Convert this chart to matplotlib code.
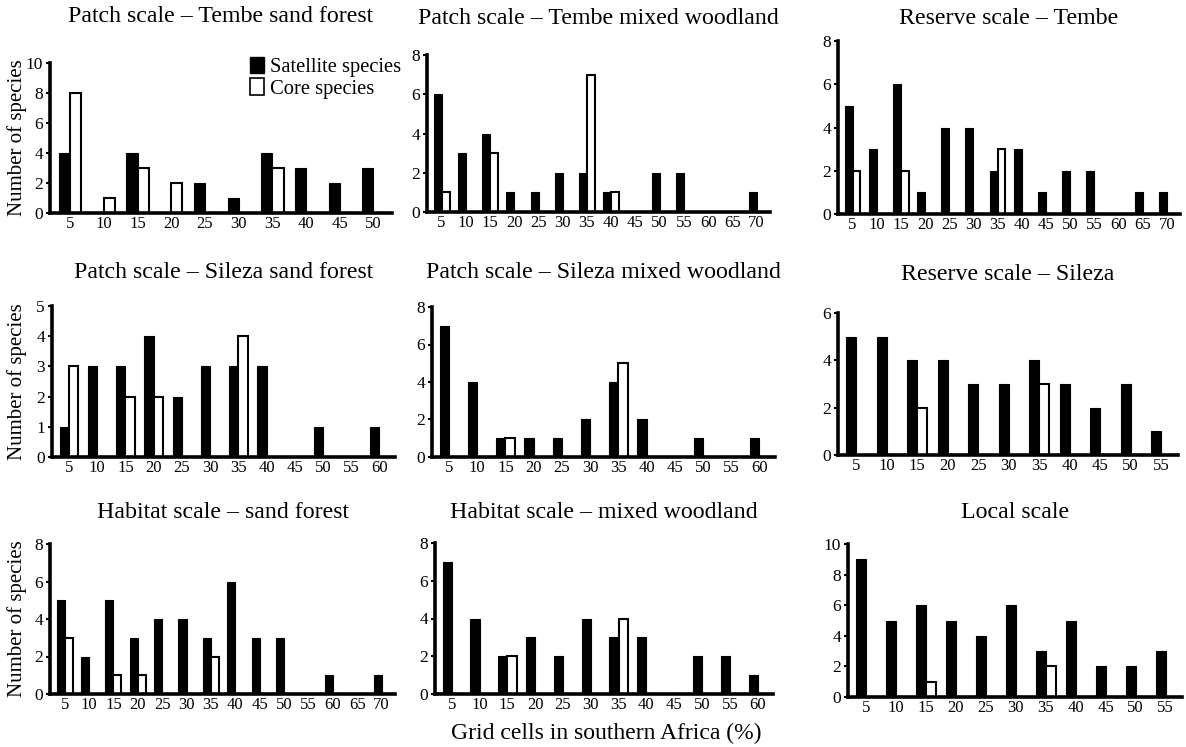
import matplotlib.pyplot as plt
import matplotlib.patches as mpatches
import numpy as np

plt.rcParams['font.family'] = ['Liberation Serif', 'DejaVu Serif']

# category labels (% of grid cells in southern Africa)
cats_50 = [5, 10, 15, 20, 25, 30, 35, 40, 45, 50]
cats_55 = [5, 10, 15, 20, 25, 30, 35, 40, 45, 50, 55]
cats_60 = [5, 10, 15, 20, 25, 30, 35, 40, 45, 50, 55, 60]
cats_70 = [5, 10, 15, 20, 25, 30, 35, 40, 45, 50, 55, 60, 65, 70]

# satellite / core species counts per panel
tembe_sand_sat = [4, 0, 4, 0, 2, 1, 4, 3, 2, 3]
tembe_sand_core = [8, 1, 3, 2, 0, 0, 3, 0, 0, 0]
tembe_mixed_sat = [6, 3, 4, 1, 1, 2, 2, 1, 0, 2, 2, 0, 0, 1]
tembe_mixed_core = [1, 0, 3, 0, 0, 0, 7, 1, 0, 0, 0, 0, 0, 0]
tembe_res_sat = [5, 3, 6, 1, 4, 4, 2, 3, 1, 2, 2, 0, 1, 1]
tembe_res_core = [2, 0, 2, 0, 0, 0, 3, 0, 0, 0, 0, 0, 0, 0]
sileza_sand_sat = [1, 3, 3, 4, 2, 3, 3, 3, 0, 1, 0, 1]
sileza_sand_core = [3, 0, 2, 2, 0, 0, 4, 0, 0, 0, 0, 0]
sileza_mixed_sat = [7, 4, 1, 1, 1, 2, 4, 2, 0, 1, 0, 1]
sileza_mixed_core = [0, 0, 1, 0, 0, 0, 5, 0, 0, 0, 0, 0]
sileza_res_sat = [5, 5, 4, 4, 3, 3, 4, 3, 2, 3, 1]
sileza_res_core = [0, 0, 2, 0, 0, 0, 3, 0, 0, 0, 0]
hab_sand_sat = [5, 2, 5, 3, 4, 4, 3, 6, 3, 3, 0, 1, 0, 1]
hab_sand_core = [3, 0, 1, 1, 0, 0, 2, 0, 0, 0, 0, 0, 0, 0]
hab_mixed_sat = [7, 4, 2, 3, 2, 4, 3, 3, 0, 2, 2, 1]
hab_mixed_core = [0, 0, 2, 0, 0, 0, 4, 0, 0, 0, 0, 0]
local_sat = [9, 5, 6, 5, 4, 6, 3, 5, 2, 2, 3]
local_core = [0, 0, 1, 0, 0, 0, 2, 0, 0, 0, 0]

W, H = 1186, 747
fig = plt.figure(figsize=(W / 100, H / 100), dpi=100)

# (title, cats, sat, core, ymax, ystep, box px: left, top, right, bottom, title y px)
panels = [
    ('Patch scale \u2013 Tembe sand forest', cats_50, tembe_sand_sat, tembe_sand_core, 10, 2, (50, 63, 392, 213), 17),
    ('Patch scale \u2013 Tembe mixed woodland', cats_70, tembe_mixed_sat, tembe_mixed_core, 8, 2, (427, 55, 770, 212), 19),
    ('Reserve scale \u2013 Tembe', cats_70, tembe_res_sat, tembe_res_core, 8, 2, (838, 41, 1180, 214), 18),
    ('Patch scale \u2013 Sileza sand forest', cats_60, sileza_sand_sat, sileza_sand_core, 5, 1, (52, 306, 395, 457), 273),
    ('Patch scale \u2013 Sileza mixed woodland', cats_60, sileza_mixed_sat, sileza_mixed_core, 8, 2, (432, 307, 775, 457), 273),
    ('Reserve scale \u2013 Sileza', cats_55, sileza_res_sat, sileza_res_core, 6, 2, (838, 313, 1178, 455), 274),
    ('Habitat scale \u2013 sand forest', cats_70, hab_sand_sat, hab_sand_core, 8, 2, (50, 544, 395, 694), 513),
    ('Habitat scale \u2013 mixed woodland', cats_60, hab_mixed_sat, hab_mixed_core, 8, 2, (435, 543, 773, 694), 513),
    ('Local scale', cats_55, local_sat, local_core, 10, 2, (848, 544, 1182, 697), 513),
]

bw = 0.33
for i, (title, cats, sat, core, ymax, ystep, box, ty) in enumerate(panels):
    l, t, r, b = box
    ax = fig.add_axes([l / W, 1 - b / H, (r - l) / W, (b - t) / H])
    x = np.arange(len(cats))
    ax.bar(x - bw, sat, width=bw, align='edge', color='black', edgecolor='black', linewidth=0.8)
    ax.bar(x, core, width=bw, align='edge', color='white', edgecolor='black', linewidth=1.5)
    ax.set_xlim(-0.6, len(cats) - 0.45)
    ax.set_ylim(0, ymax)
    ax.set_yticks(np.arange(0, ymax + 0.1, ystep))
    ax.set_xticks(x)
    ax.set_xticklabels([str(c) for c in cats], fontsize=12)
    ax.tick_params(axis='x', length=0, pad=2)
    ax.tick_params(axis='y', length=3, width=1.5, labelsize=12.5, pad=2)
    for s in ['top', 'right']:
        ax.spines[s].set_visible(False)
    for s in ['left', 'bottom']:
        ax.spines[s].set_linewidth(2.6)
    fig.text((l + r) / 2 / W, 1 - ty / H, title, ha='center', va='center', fontsize=17.2)
    if i % 3 == 0:
        ax.set_ylabel('Number of species', fontsize=15, va='center')
        ax.yaxis.set_label_coords((17 - l) / (r - l), 0.5)

fig.text(606 / W, 1 - 733 / H, 'Grid cells in southern Africa (%)', ha='center', va='center', fontsize=17)

handles = [mpatches.Patch(facecolor='black', edgecolor='black'),
           mpatches.Patch(facecolor='white', edgecolor='black', linewidth=1.2)]
fig.legend(handles, ['Satellite species', 'Core species'], loc='upper left',
           bbox_to_anchor=(250 / W, 1 - 57 / H), frameon=False, fontsize=14.8,
           handlelength=0.7, handleheight=0.85, handletextpad=0.25, borderpad=0,
           borderaxespad=0, labelspacing=0.05)

fig.savefig('out.png', dpi=100)
